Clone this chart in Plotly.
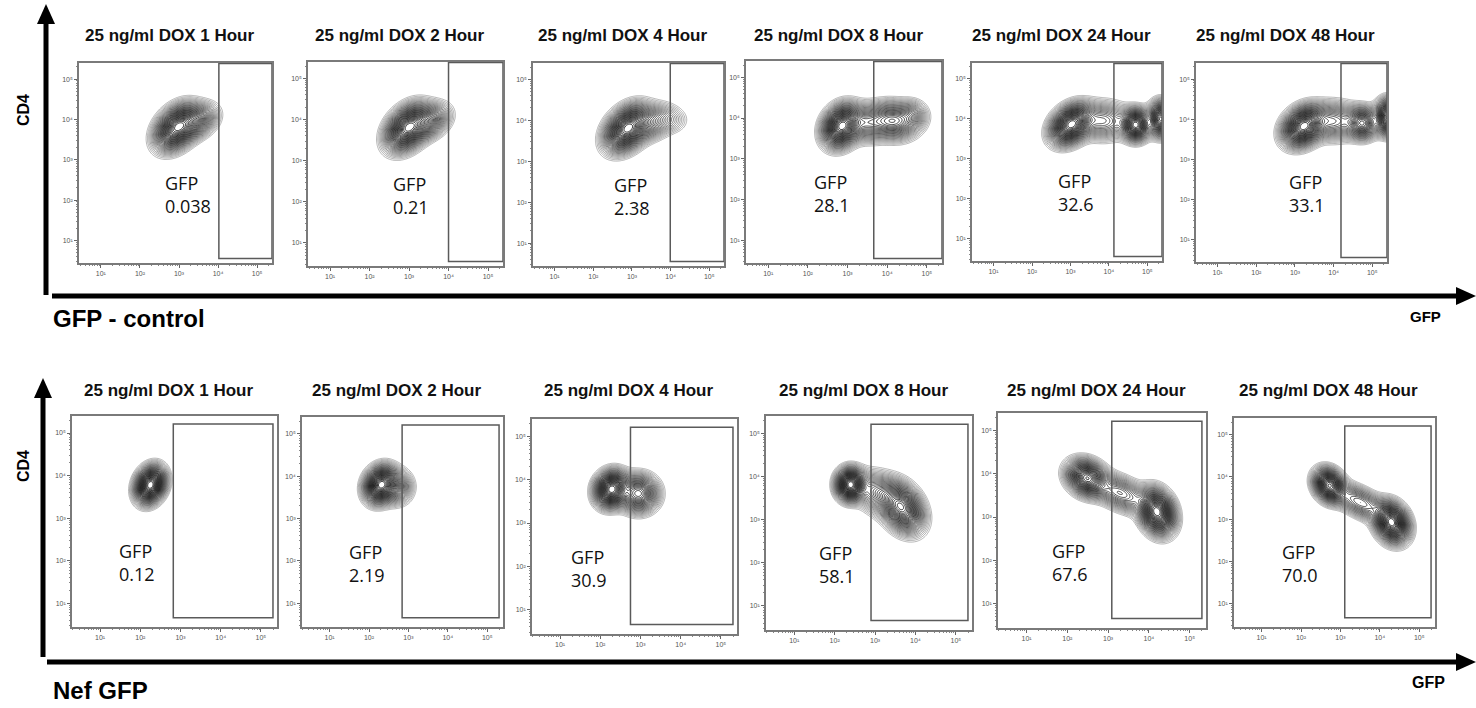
import numpy as np
import plotly.graph_objects as go

# ---------------- data ----------------
time_points = ["1 Hour", "2 Hour", "4 Hour", "8 Hour", "24 Hour", "48 Hour"]
titles = ["25 ng/ml DOX " + t for t in time_points]

gfp_control = ["0.038", "0.21", "2.38", "28.1", "32.6", "33.1"]
gfp_nef = ["0.12", "2.19", "30.9", "58.1", "67.6", "70.0"]

# gate lower GFP bound (log10) per panel
gate_control = [4.02, 4.00, 3.99, 3.66, 4.13, 4.19]
gate_nef = [2.82, 2.84, 2.75, 2.90, 3.09, 3.11]

# cell populations: (log10 GFP centre, log10 CD4 centre, sd GFP, sd CD4, correlation, weight)
control_1h = [(2.95, 3.80, 0.28, 0.28, 0.35, 1.00), (3.45, 3.95, 0.27, 0.22, 0.30, 0.40)]
control_2h = [(2.97, 3.80, 0.28, 0.28, 0.35, 1.00), (3.50, 3.95, 0.27, 0.22, 0.30, 0.40)]
control_4h = [(2.88, 3.80, 0.29, 0.28, 0.35, 1.00), (3.50, 3.95, 0.30, 0.22, 0.25, 0.30),
              (4.05, 4.00, 0.22, 0.17, 0.00, 0.06)]
control_8h = [(2.85, 3.80, 0.24, 0.26, 0.20, 1.00), (3.50, 3.88, 0.32, 0.23, 0.00, 0.35),
              (4.15, 3.93, 0.30, 0.23, -0.10, 0.50), (4.60, 4.05, 0.22, 0.20, 0.00, 0.20)]
control_24h = [(3.02, 3.86, 0.27, 0.25, 0.30, 1.00), (3.85, 3.95, 0.37, 0.24, 0.00, 0.30),
               (4.70, 3.85, 0.19, 0.20, 0.00, 0.85), (5.35, 4.00, 0.17, 0.22, 0.00, 0.80)]
control_48h = [(3.22, 3.82, 0.27, 0.25, 0.25, 1.00), (4.00, 3.95, 0.37, 0.24, 0.00, 0.35),
               (4.75, 3.90, 0.21, 0.20, 0.00, 0.60), (5.40, 4.05, 0.17, 0.22, 0.00, 0.90)]

nef_1h = [(2.25, 3.78, 0.19, 0.22, 0.20, 1.00)]
nef_2h = [(2.30, 3.80, 0.21, 0.22, 0.15, 1.00), (2.70, 3.75, 0.21, 0.21, 0.00, 0.30)]
nef_4h = [(2.28, 3.78, 0.21, 0.21, 0.10, 1.00), (2.95, 3.68, 0.25, 0.22, 0.00, 0.60)]
nef_8h = [(2.39, 3.81, 0.18, 0.19, 0.00, 1.00), (3.10, 3.60, 0.32, 0.26, -0.30, 0.30),
          (3.66, 3.28, 0.27, 0.29, -0.30, 0.80)]
nef_24h = [(2.48, 3.90, 0.25, 0.21, -0.20, 0.80), (3.30, 3.55, 0.37, 0.23, -0.50, 0.35),
           (4.20, 3.12, 0.22, 0.26, -0.20, 1.00)]
nef_48h = [(2.72, 3.80, 0.20, 0.20, -0.20, 0.90), (3.50, 3.40, 0.37, 0.23, -0.60, 0.35),
           (4.30, 2.92, 0.22, 0.24, -0.20, 1.00)]

control_pops = [control_1h, control_2h, control_4h, control_8h, control_24h, control_48h]
nef_pops = [nef_1h, nef_2h, nef_4h, nef_8h, nef_24h, nef_48h]

decades = [1, 2, 3, 4, 5]
decade_labels = ["10¹", "10²", "10³", "10⁴", "10⁵"]

# ---------------- layout helpers ----------------
W, H = 1476, 708
def px(x): return x / W
def py(y): return 1 - y / H

# panel frames in page pixels: (left, right, top, bottom)
frames_top = [(79, 272, 63, 263), (308, 503, 62, 266), (533, 724, 63, 266),
              (746, 942, 61, 263), (972, 1162, 63, 261), (1196, 1387, 63, 262)]
frames_bot = [(72, 277, 416, 627), (302, 503, 417, 627), (532, 737, 419, 634),
              (766, 972, 416, 630), (998, 1206, 413, 628), (1234, 1435, 418, 627)]
title_y = [35, 390]
label_x_top = [3.22, 3.06, 3.01, 2.60, 3.15, 3.32]
label_x_bot = [1.91, 1.94, 1.73, 2.06, 2.06, 1.98]

minor_vals = [float(np.log10(k * 10.0 ** n)) for n in range(0, 6) for k in range(2, 10)]

grid = np.linspace(0.2, 5.5, 240)
GX, GY = np.meshgrid(grid, grid)

def density(pops):
    z = np.zeros_like(GX)
    for mx, my, sx, sy, r, w in pops:
        dx = (GX - mx) / sx
        dy = (GY - my) / sy
        q = (dx * dx - 2 * r * dx * dy + dy * dy) / (1 - r * r)
        z += w * np.exp(-0.5 * q)
    return np.sqrt(z / z.max())

fig = go.Figure()
layout = dict(width=W, height=H, margin=dict(l=0, r=0, t=0, b=0),
              paper_bgcolor="white", plot_bgcolor="white", showlegend=False)
shapes, annotations = [], []

cscale = [[0, "#a0a0a0"], [0.25, "#555555"], [0.55, "#1c1c1c"], [1, "#000000"]]

rows = [
    (frames_top, control_pops, gate_control, gfp_control, [0.44, 5.38], 0.55, 5.39, 5.38, label_x_top, 2.15, title_y[0]),
    (frames_bot, nef_pops, gate_nef, gfp_nef, [0.30, 5.40], 0.66, 5.21, 5.30, label_x_bot, 1.95, title_y[1]),
]

idx = 0
for frames, pops_list, gates, pcts, xr, gy0, gy1, gx1, lab_x, lab_y, ty in rows:
    for j in range(6):
        idx += 1
        sfx = "" if idx == 1 else str(idx)
        L, R, T, B = frames[j]
        xa, ya = "x" + sfx, "y" + sfx
        tickfont = dict(size=7, color="#555555", family="Liberation Sans")
        axis_common = dict(showgrid=False, zeroline=False, showline=True, mirror=True,
                           linecolor="#7a7a7a", linewidth=1.5, ticks="outside",
                           ticklen=3, tickwidth=1, tickcolor="#666666",
                           tickmode="array", tickvals=decades, ticktext=decade_labels,
                           tickfont=tickfont,
                           minor=dict(tickmode="array", tickvals=minor_vals, ticks="outside",
                                      ticklen=1.5, tickcolor="#888888", tickwidth=0.8))
        layout["xaxis" + sfx] = dict(axis_common, domain=[px(L), px(R)], range=xr,
                                     anchor=ya)
        layout["yaxis" + sfx] = dict(axis_common, domain=[py(B), py(T)], range=[0.44, 5.4],
                                     anchor=xa)
        fig.add_trace(go.Contour(
            x=grid, y=grid, z=density(pops_list[j]), xaxis=xa, yaxis=ya,
            contours=dict(coloring="lines", start=0.13, end=0.99, size=0.024),
            line=dict(width=0.8), colorscale=cscale, showscale=False,
            hoverinfo="skip"))
        # gate
        shapes.append(dict(type="rect", xref=xa, yref=ya, x0=gates[j], x1=gx1,
                           y0=gy0, y1=gy1, line=dict(color="#5a5a5a", width=1.5)))
        # percentage label
        annotations.append(dict(xref=xa, yref=ya, x=lab_x[j], y=lab_y,
                                text="GFP<br>" + pcts[j], showarrow=False,
                                font=dict(family="Open Sans", size=18, color="#111111"),
                                align="left", xanchor="center", yanchor="middle"))
        # title
        annotations.append(dict(xref="paper", yref="paper", x=px((L + R) / 2 - 6), y=py(ty),
                                text="<b>" + titles[j] + "</b>", showarrow=False,
                                font=dict(family="Liberation Sans", size=17, color="#111111"),
                                xanchor="center", yanchor="middle"))

# big axis arrows
def arrow_v(x, ybot, ytip, head_h=20, half=9, w=5):
    shapes.append(dict(type="line", xref="paper", yref="paper", x0=px(x), x1=px(x),
                       y0=py(ybot), y1=py(ytip + head_h - 2), line=dict(color="black", width=w)))
    shapes.append(dict(type="path", xref="paper", yref="paper",
                       path="M %f %f L %f %f L %f %f Z" % (px(x - half), py(ytip + head_h),
                                                          px(x), py(ytip),
                                                          px(x + half), py(ytip + head_h)),
                       fillcolor="black", line=dict(color="black", width=0)))

def arrow_h(y, xstart, xtip, head_w=20, half=9, w=5):
    shapes.append(dict(type="line", xref="paper", yref="paper", x0=px(xstart),
                       x1=px(xtip - head_w + 2), y0=py(y), y1=py(y),
                       line=dict(color="black", width=w)))
    shapes.append(dict(type="path", xref="paper", yref="paper",
                       path="M %f %f L %f %f L %f %f Z" % (px(xtip - head_w), py(y - half),
                                                          px(xtip), py(y),
                                                          px(xtip - head_w), py(y + half)),
                       fillcolor="black", line=dict(color="black", width=0)))

arrow_v(46, 295, 4)
arrow_h(296, 52, 1476)
arrow_v(43, 657, 378)
arrow_h(662, 47, 1476)

bold = dict(family="Liberation Sans", color="black")
def label(x, y, text, size, xanchor="center", angle=0):
    annotations.append(dict(xref="paper", yref="paper", x=px(x), y=py(y), text=text,
                            textangle=angle, showarrow=False, xanchor=xanchor,
                            yanchor="middle", font=dict(bold, size=size)))

label(24, 110, "<b>CD4</b>", 16, angle=-90)
label(23, 466, "<b>CD4</b>", 16, angle=-90)
label(51, 318, "<b>GFP - control</b>", 24, xanchor="left")
label(51, 690, "<b>Nef GFP</b>", 24, xanchor="left")
label(1425, 316, "<b>GFP</b>", 15)
label(1428, 682, "<b>GFP</b>", 16)

layout["shapes"] = shapes
layout["annotations"] = annotations
fig.update_layout(**layout)
fig.write_html("out.html")
